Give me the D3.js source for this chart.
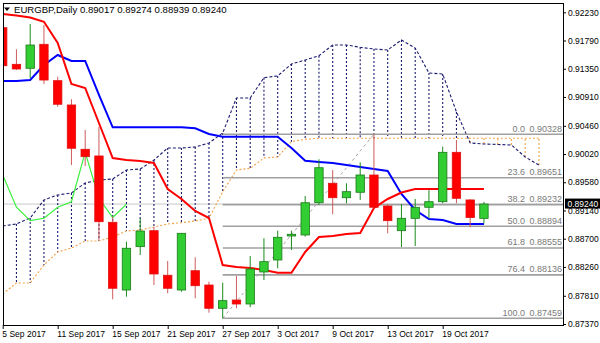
<!DOCTYPE html>
<html>
<head>
<meta charset="utf-8">
<script src="https://cdn.jsdelivr.net/npm/d3@7/dist/d3.min.js"></script>
<style>
    body { margin: 0; background: #fff; }
    svg { display: block; font-family: "Liberation Sans", Arial, sans-serif; }
</style>
</head>
<body>
<svg id="chart" width="600" height="343"></svg>
<script>
// EURGBP daily bars, 5 Sep - 24 Oct 2017
let dates = ["5 Sep 2017", "6 Sep 2017", "7 Sep 2017", "8 Sep 2017", "11 Sep 2017", "12 Sep 2017",
    "13 Sep 2017", "14 Sep 2017", "15 Sep 2017", "18 Sep 2017", "19 Sep 2017", "20 Sep 2017",
    "21 Sep 2017", "22 Sep 2017", "25 Sep 2017", "26 Sep 2017", "27 Sep 2017", "28 Sep 2017",
    "29 Sep 2017", "2 Oct 2017", "3 Oct 2017", "4 Oct 2017", "5 Oct 2017", "6 Oct 2017",
    "9 Oct 2017", "10 Oct 2017", "11 Oct 2017", "12 Oct 2017", "13 Oct 2017", "16 Oct 2017",
    "17 Oct 2017", "18 Oct 2017", "19 Oct 2017", "20 Oct 2017", "23 Oct 2017", "24 Oct 2017"];

let opens = [0.91990, 0.91419, 0.91357, 0.91731, 0.91164, 0.90785, 0.90094, 0.89990, 0.88956, 0.87900,
    0.88576, 0.88825, 0.88130, 0.87900, 0.88201, 0.87978, 0.87615, 0.87744, 0.87682, 0.88181,
    0.88368, 0.88742, 0.88758, 0.89261, 0.89564, 0.89339, 0.89424, 0.89693, 0.89210, 0.88825,
    0.89018, 0.89190, 0.89277, 0.90047, 0.89304, 0.89017];
let highs = [0.92141, 0.91653, 0.92048, 0.92032, 0.91226, 0.90874, 0.90395, 0.90446, 0.89043, 0.88653,
    0.89018, 0.88883, 0.88353, 0.88789, 0.88410, 0.88030, 0.88014, 0.88119, 0.88430, 0.88706,
    0.88825, 0.88825, 0.89366, 0.89938, 0.89771, 0.89564, 0.89891, 0.90328, 0.89241, 0.89241,
    0.89319, 0.89459, 0.90135, 0.90239, 0.89319, 0.89274];
let lows = [0.91330, 0.91330, 0.91206, 0.91112, 0.90758, 0.89849, 0.89834, 0.88680, 0.87755, 0.87796,
    0.88446, 0.87978, 0.87849, 0.87874, 0.87771, 0.87546, 0.87459, 0.87615, 0.87631, 0.88056,
    0.88239, 0.88524, 0.88731, 0.89226, 0.89081, 0.89252, 0.89304, 0.89174, 0.88784, 0.88571,
    0.88586, 0.89018, 0.89252, 0.89252, 0.88878, 0.88939];
let closes = [0.91397, 0.91346, 0.91720, 0.91174, 0.90796, 0.90110, 0.89979, 0.88965, 0.87927, 0.88551,
    0.88820, 0.88150, 0.87927, 0.88784, 0.87967, 0.87615, 0.87734, 0.87682, 0.88228, 0.88342,
    0.88722, 0.88769, 0.89261, 0.89807, 0.89339, 0.89433, 0.89693, 0.89190, 0.88981, 0.89018,
    0.89190, 0.89277, 0.90047, 0.89330, 0.89030, 0.89240];

// ichimoku lines
let tenkan = [0.92203, 0.92180, 0.92150, 0.92083, 0.91751, 0.91112, 0.91050, 0.90504, 0.89958, 0.89927,
    0.89912, 0.89880, 0.89475, 0.89319, 0.89132, 0.89023, 0.88290, 0.88259, 0.88243, 0.88212,
    0.88170, 0.88170, 0.88493, 0.88727, 0.88742, 0.88773, 0.88789, 0.89179, 0.89319, 0.89420,
    0.89475, 0.89475, 0.89475, 0.89475, 0.89475, 0.89475];
let kijun = [0.91159, 0.91159, 0.91174, 0.91408, 0.91564, 0.91471, 0.91471, 0.90941, 0.90437, 0.90437,
    0.90437, 0.90437, 0.90437, 0.90437, 0.90421, 0.90333, 0.90290, 0.90290, 0.90290, 0.90290,
    0.90290, 0.90114, 0.89916, 0.89896, 0.89880, 0.89849, 0.89818, 0.89787, 0.89756, 0.89397,
    0.89148, 0.89007, 0.88992, 0.88929, 0.88929, 0.88929];
let spanA = [0.88898, 0.88929, 0.89023, 0.89304, 0.89382, 0.89413, 0.89569, 0.89615, 0.89631, 0.89771,
    0.89787, 0.89927, 0.90114, 0.90114, 0.90130, 0.90192, 0.90348, 0.90894, 0.90894, 0.91210,
    0.91237, 0.91424, 0.91486, 0.91553, 0.91720, 0.91720, 0.91684, 0.91658, 0.91642, 0.91798,
    0.91673, 0.91284, 0.91268, 0.90676, 0.90192, 0.90177, 0.90169, 0.90161, 0.89974, 0.89849];
let spanB = [0.87838, 0.88010, 0.88010, 0.88290, 0.88493, 0.88555, 0.88664, 0.88664, 0.88727, 0.88820,
    0.88836, 0.88883, 0.88929, 0.88950, 0.88976, 0.89018, 0.89433, 0.89771, 0.89798, 0.89958,
    0.89974, 0.90213, 0.90250, 0.90266, 0.90266, 0.90266, 0.90266, 0.90266, 0.90266, 0.90266,
    0.90266, 0.90266, 0.90266, 0.90266, 0.90266, 0.90266, 0.90266, 0.90266, 0.90266, 0.90266];
let chikou = [0.89693, 0.89190, 0.88981, 0.89018, 0.89190, 0.89277, 0.90047, 0.89330, 0.89030, 0.89240];

let fibLevels = ["0.0", "23.6", "38.2", "50.0", "61.8", "76.4", "100.0"];
let fibPrices = [0.90328, 0.89651, 0.89232, 0.88894, 0.88555, 0.88136, 0.87459];
let fibLow = 16, fibHigh = 27;   // bar indexes of the swing

let priceTicks = [0.92230, 0.91790, 0.91350, 0.90910, 0.90460, 0.90020, 0.89580, 0.89140,
    0.88700, 0.88260, 0.87810, 0.87370];
let dateTicks = [0, 4, 8, 12, 16, 20, 24, 28, 32];
let lastPrice = 0.89240;

let plot = {left: 3, right: 563, top: 3, bottom: 325};

let svg = d3.select("#chart");
let x = d3.scaleLinear().domain([0, 35]).range([2.7, 483.95]);
let y = d3.scaleLinear().domain([0.87370, 0.92230]).range([324, 12.3]);

svg.append("rect").attr("width", 600).attr("height", 343).attr("fill", "#fff");

svg.append("clipPath").attr("id", "clip")
    .append("rect")
    .attr("x", plot.left).attr("y", plot.top)
    .attr("width", plot.right - plot.left).attr("height", plot.bottom - plot.top);

let body = svg.append("g").attr("clip-path", "url(#clip)");

// bid line
body.append("line")
    .attr("x1", plot.left).attr("x2", plot.right)
    .attr("y1", y(lastPrice)).attr("y2", y(lastPrice))
    .attr("stroke", "#c8c8c8").attr("stroke-width", 1);

// cloud hatching
let cloudIdx = d3.range(spanA.length);
body.selectAll(".hatch")
    .data(cloudIdx)
    .enter()
    .append("line")
    .attr("x1", i => x(i)).attr("x2", i => x(i))
    .attr("y1", i => y(spanA[i])).attr("y2", i => y(spanB[i]))
    .attr("stroke", i => spanA[i] >= spanB[i] ? "#1c1c70" : "#f4a24a")
    .attr("stroke-width", 1.1)
    .attr("stroke-dasharray", "2,2");

let line = arr => d3.line().x((d, i) => x(i)).y(d => y(d))(arr);

body.append("path").attr("d", line(spanB))
    .attr("fill", "none").attr("stroke", "#f4a24a").attr("stroke-width", 1.1).attr("stroke-dasharray", "2,2");
body.append("path").attr("d", line(spanA))
    .attr("fill", "none").attr("stroke", "#1c1c70").attr("stroke-width", 1.1).attr("stroke-dasharray", "3,2");

// fibonacci
body.append("line")
    .attr("x1", x(fibLow)).attr("y1", y(lows[fibLow]))
    .attr("x2", x(fibHigh)).attr("y2", y(highs[fibHigh]))
    .attr("stroke", "#a8a8a8").attr("stroke-width", 1).attr("stroke-dasharray", "3,3");
body.selectAll(".fib")
    .data(fibPrices)
    .enter()
    .append("line")
    .attr("x1", x(fibLow)).attr("x2", plot.right)
    .attr("y1", d => y(d)).attr("y2", d => y(d))
    .attr("stroke", "#a0a0a0").attr("stroke-width", 1.6);
body.selectAll(".fibLevel")
    .data(fibLevels)
    .enter()
    .append("text")
    .attr("x", 525).attr("y", (d, i) => y(fibPrices[i]) - 2.5)
    .attr("text-anchor", "end")
    .attr("font-size", 9).attr("fill", "#7a7a7a")
    .text(d => d);
body.selectAll(".fibPrice")
    .data(fibPrices)
    .enter()
    .append("text")
    .attr("x", 562).attr("y", d => y(d) - 2.5)
    .attr("text-anchor", "end")
    .attr("font-size", 9).attr("fill", "#7a7a7a")
    .text(d => d.toFixed(5));

// chikou, tenkan, kijun
body.append("path").attr("d", line(chikou))
    .attr("fill", "none").attr("stroke", "#3cf03c").attr("stroke-width", 1.2);
body.append("path").attr("d", line(kijun))
    .attr("fill", "none").attr("stroke", "#0000ff").attr("stroke-width", 2);
body.append("path").attr("d", line(tenkan))
    .attr("fill", "none").attr("stroke", "#ff0000").attr("stroke-width", 2);

// candles
let bars = d3.range(dates.length);
let up = i => closes[i] >= opens[i];
body.selectAll(".wick")
    .data(bars)
    .enter()
    .append("line")
    .attr("x1", i => x(i)).attr("x2", i => x(i))
    .attr("y1", i => y(highs[i])).attr("y2", i => y(lows[i]))
    .attr("stroke", i => up(i) ? "#1a8a1a" : "#cd5c5c")
    .attr("stroke-width", 1);
body.selectAll(".candle")
    .data(bars)
    .enter()
    .append("rect")
    .attr("x", i => x(i) - 4.2)
    .attr("width", 8.4)
    .attr("y", i => y(Math.max(opens[i], closes[i])))
    .attr("height", i => Math.max(1, Math.abs(y(opens[i]) - y(closes[i]))))
    .attr("fill", i => up(i) ? "#32cd32" : "#ff0000")
    .attr("stroke", i => up(i) ? "#1a7a1a" : "#e01010")
    .attr("stroke-width", 0.8);

// frame
svg.append("path")
    .attr("d", `M${plot.left},${plot.top}H${plot.right}V${plot.bottom}H${plot.left}Z`)
    .attr("fill", "none").attr("stroke", "#000").attr("stroke-width", 1)
    .attr("shape-rendering", "crispEdges");

// price axis
let yAx = d3.axisRight(y).tickValues(priceTicks).tickSize(3).tickPadding(2)
    .tickFormat(d => d.toFixed(5));
let yG = svg.append("g").attr("transform", `translate(${plot.right},0)`).call(yAx);
yG.select(".domain").remove();
yG.selectAll("text").attr("font-size", 8.5).attr("fill", "#000").attr("font-family", "Liberation Sans, Arial, sans-serif");
yG.selectAll("line").attr("stroke", "#000");

// time axis
let xAx = d3.axisBottom(x).tickValues(dateTicks).tickSize(4).tickPadding(2)
    .tickFormat(i => dates[i]);
let xG = svg.append("g").attr("transform", `translate(0,${plot.bottom})`).call(xAx);
xG.select(".domain").remove();
xG.selectAll("text").attr("text-anchor", "start").attr("dx", "-0.1em")
    .attr("font-size", 8.5).attr("fill", "#000").attr("font-family", "Liberation Sans, Arial, sans-serif");
xG.selectAll("line").attr("stroke", "#000");

// last price tag
svg.append("rect")
    .attr("x", 565).attr("y", y(lastPrice) - 5.5).attr("width", 35).attr("height", 10)
    .attr("fill", "#000");
svg.append("text")
    .attr("x", 567.5).attr("y", y(lastPrice) + 3)
    .attr("font-size", 8.5).attr("fill", "#fff")
    .text(lastPrice.toFixed(5));

// title
svg.append("path").attr("d", "M4,7.5H10L7,11Z").attr("fill", "#000");
svg.append("text")
    .attr("x", 14).attr("y", 12.5)
    .attr("font-size", 9.6).attr("fill", "#000")
    .text(`EURGBP,Daily  ${opens[35].toFixed(5)} ${highs[35].toFixed(5)} ${lows[35].toFixed(5)} ${closes[35].toFixed(5)}`);
</script>
</body>
</html>
